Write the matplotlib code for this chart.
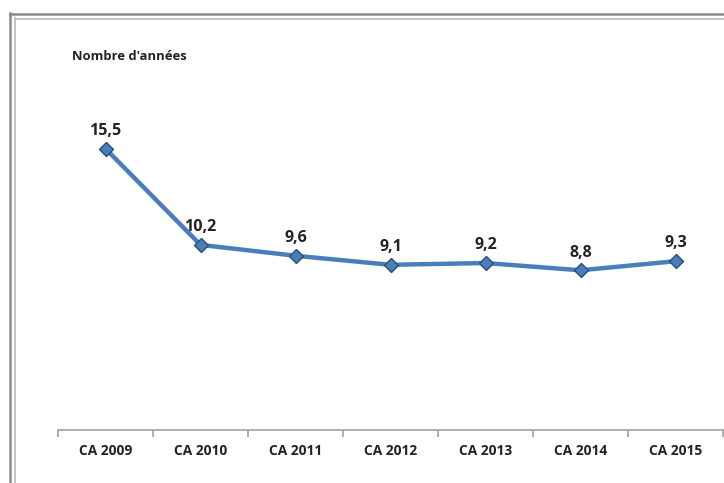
import matplotlib
matplotlib.use("Agg")
import matplotlib.pyplot as plt
from matplotlib.lines import Line2D

categories = ["CA 2009", "CA 2010", "CA 2011", "CA 2012", "CA 2013", "CA 2014", "CA 2015"]
values = [15.5, 10.2, 9.6, 9.1, 9.2, 8.8, 9.3]
value_labels = ["15,5", "10,2", "9,6", "9,1", "9,2", "8,8", "9,3"]
y_title = "Nombre d'années"

W, H = 724, 483
fig = plt.figure(figsize=(W / 100, H / 100), dpi=100)
plt.rcParams['font.family'] = ['Open Sans', 'DejaVu Sans']

# frame (double border, extending off right and bottom)
def fx(px):
    return px / W
def fy(py):
    return 1 - py / H
fig.add_artist(Line2D([fx(10), fx(10)], [fy(13), fy(H + 5)], color="#8a8a8a", lw=1.8, transform=fig.transFigure))
fig.add_artist(Line2D([fx(10), fx(W + 5)], [fy(13.5), fy(13.5)], color="#8a8a8a", lw=1.8, transform=fig.transFigure))
fig.add_artist(Line2D([fx(15), fx(15)], [fy(18), fy(H + 5)], color="#bdbdbd", lw=1.3, transform=fig.transFigure))
fig.add_artist(Line2D([fx(15), fx(W + 5)], [fy(18.5), fy(18.5)], color="#bdbdbd", lw=1.3, transform=fig.transFigure))

ax = fig.add_axes([fx(58), fy(430), fx(723) - fx(58), fy(67) - fy(430)])
x = list(range(len(categories)))
ax.plot(x, values, color="#4a7ebb", lw=3.2, marker="D", markersize=7.5,
        markerfacecolor="#4a7ebb", markeredgecolor="#2c4d75", markeredgewidth=1.0, zorder=3)
for xi, v, lab in zip(x, values, value_labels):
    ax.annotate(lab, (xi, v), xytext=(0, 7), textcoords="offset points",
                ha="center", va="bottom", fontsize=11.5, fontweight="bold", color="#222222")

ax.set_xlim(-0.5, len(categories) - 0.5)
ax.set_ylim(0, 20)
for s in ["top", "right", "left"]:
    ax.spines[s].set_visible(False)
ax.spines["bottom"].set_color("#a0a0a0")
ax.spines["bottom"].set_linewidth(1.2)
ax.set_yticks([])
ax.set_xticks(x)
ax.set_xticklabels(categories, fontsize=9.9, fontweight="bold", color="#222222")
ax.tick_params(axis="x", which="major", length=0, pad=10)
ax.set_xticks([i - 0.5 for i in range(len(categories) + 1)], minor=True)
ax.tick_params(axis="x", which="minor", length=5, color="#a0a0a0", width=1.2, direction="out")

fig.text(fx(72), fy(56), y_title, fontsize=9.4, fontweight="bold", color="#222222", ha="left", va="center")

fig.savefig("out.png", dpi=100)
